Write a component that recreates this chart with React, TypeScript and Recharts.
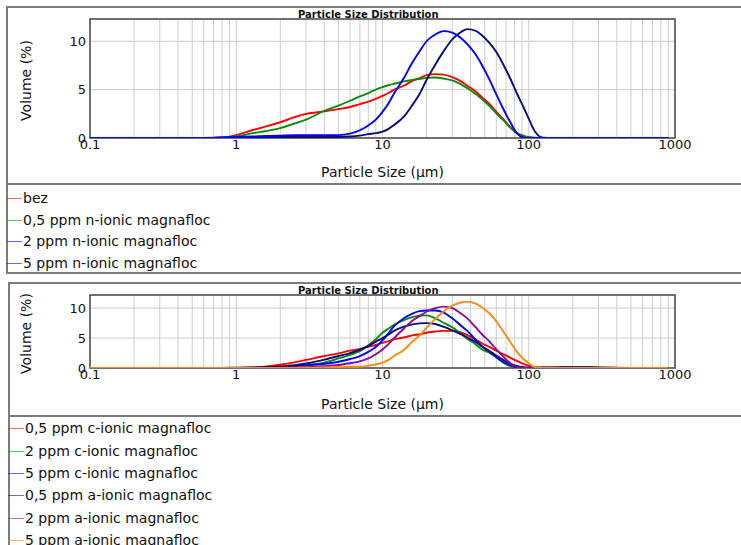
import React from "react";
import {
  LineChart,
  Line,
  XAxis,
  YAxis,
  CartesianGrid,
  ReferenceArea,
} from "recharts";

// particle sizes (µm) shared by every curve
const SIZES = [
  0.1, 0.3, 0.6, 0.8, 1, 1.3, 1.6, 2, 2.5, 3, 4, 5, 6, 7, 8, 9, 10, 11, 12, 14,
  16, 18, 20, 23, 26, 30, 34, 38, 43, 48, 54, 60, 67, 75, 83, 92, 100, 110, 125,
  150, 200, 300, 500, 900,
];

// upper chart — n-ionic magnafloc
const BEZ = [
  0, 0, 0, 0.05, 0.3, 0.83, 1.2, 1.63, 2.15, 2.5, 2.75, 2.98, 3.2, 3.5, 3.75, 4.05,
  4.35, 4.65, 5.0, 5.4, 5.9, 6.2, 6.5, 6.6, 6.55, 6.3, 5.9, 5.4, 4.85, 4.2, 3.5,
  2.7, 1.95, 1.1, 0.5, 0.1, 0.02, 0, 0, 0, 0, 0, 0, 0,
];
const N05 = [
  0, 0, 0, 0.02, 0.15, 0.5, 0.72, 1.02, 1.5, 1.9, 2.8, 3.35, 3.85, 4.3, 4.65, 5.0,
  5.25, 5.45, 5.6, 5.85, 6.0, 6.12, 6.22, 6.25, 6.15, 5.95, 5.6, 5.15, 4.6, 4.0,
  3.3, 2.55, 1.85, 1.05, 0.5, 0.25, 0.1, 0.03, 0, 0, 0, 0, 0, 0,
];
const N2 = [
  0, 0, 0, 0.05, 0.1, 0.15, 0.2, 0.25, 0.3, 0.3, 0.3, 0.3, 0.45, 0.8, 1.3, 1.9,
  2.7, 3.6, 4.6, 6.2, 7.8, 9.0, 10.0, 10.7, 11.05, 10.9, 10.4, 9.7, 8.7, 7.5, 6.0,
  4.5, 3.0, 1.6, 0.5, 0.03, 0, 0, 0, 0, 0, 0, 0, 0,
];
const N5 = [
  0, 0, 0, 0.02, 0.05, 0.08, 0.1, 0.1, 0.1, 0.1, 0.1, 0.1, 0.15, 0.25, 0.4, 0.5,
  0.65, 0.95, 1.35, 2.2, 3.4, 4.6, 6.0, 7.6, 8.9, 10.2, 10.9, 11.25, 11.1, 10.6,
  9.8, 8.9, 7.6, 6.1, 4.6, 3.2, 2.0, 0.7, 0.03, 0, 0, 0, 0, 0,
];

// lower chart — c-ionic / a-ionic magnafloc
const C05 = [
  0, 0, 0, 0, 0.02, 0.05, 0.25, 0.55, 0.95, 1.35, 2.0, 2.45, 2.9, 3.2, 3.55, 3.85,
  4.2, 4.5, 4.8, 5.1, 5.45, 5.65, 5.9, 6.1, 6.2, 6.2, 6.0, 5.5, 4.8, 4.1, 3.5, 2.9,
  2.3, 1.7, 1.2, 0.7, 0.4, 0.15, 0.05, 0.03, 0.02, 0, 0, 0,
];
const C2 = [
  0, 0, 0, 0, 0.02, 0.02, 0.05, 0.1, 0.3, 0.5, 0.9, 1.6, 2.2, 2.8, 3.8, 4.8, 5.9,
  6.6, 7.2, 8.0, 8.5, 8.75, 8.8, 8.3, 7.6, 6.8, 5.8, 4.9, 4.0, 3.1, 2.5, 1.8, 0.9,
  0.3, 0.05, 0, 0, 0, 0, 0, 0, 0, 0, 0,
];
const C5 = [
  0, 0, 0, 0, 0.02, 0.05, 0.1, 0.15, 0.25, 0.4, 0.7, 1.05, 1.5, 2.0, 2.7, 3.5, 4.6,
  5.8, 7.0, 8.3, 9.1, 9.5, 9.6, 9.6, 9.3, 8.3, 7.2, 6.2, 4.8, 3.6, 2.7, 1.8, 1.0,
  0.45, 0.1, 0.02, 0.02, 0.02, 0.03, 0.05, 0.1, 0.05, 0, 0,
];
const A05 = [
  0, 0, 0, 0.02, 0.05, 0.1, 0.15, 0.25, 0.45, 0.75, 1.4, 2.0, 2.5, 3.05, 3.7, 4.4,
  5.0, 5.6, 6.2, 6.9, 7.3, 7.45, 7.5, 7.35, 6.9, 6.3, 5.7, 5.1, 4.4, 3.6, 2.85, 2.1,
  1.35, 0.75, 0.35, 0.15, 0.1, 0.08, 0.08, 0.1, 0.15, 0.1, 0, 0,
];
const A2 = [
  0, 0, 0, 0, 0, 0, 0.02, 0.05, 0.1, 0.15, 0.3, 0.5, 0.8, 1.1, 1.6, 2.3, 3.1, 4.0,
  5.0, 6.6, 7.9, 8.7, 9.4, 10.0, 10.25, 10.0, 9.2, 8.3, 6.9, 5.6, 4.4, 3.1, 1.9,
  0.8, 0.2, 0.05, 0, 0, 0, 0, 0, 0, 0, 0,
];
const A5 = [
  0, 0, 0, 0, 0, 0, 0, 0, 0.02, 0.05, 0.1, 0.15, 0.2, 0.2, 0.4, 0.6, 0.9, 1.35, 2.0,
  3.0, 4.4, 5.5, 6.7, 8.2, 9.4, 10.4, 10.9, 11.1, 10.8, 10.1, 9.1, 7.8, 6.1, 4.3,
  2.7, 1.5, 0.8, 0.15, 0.02, 0, 0, 0, 0, 0,
];

const TOP_SERIES = [
  { name: "bez", color: "#ff0000", values: BEZ },
  { name: "0,5 ppm n-ionic magnafloc", color: "#0a8a0a", values: N05 },
  { name: "2 ppm n-ionic magnafloc", color: "#0000ff", values: N2 },
  { name: "5 ppm n-ionic magnafloc", color: "#0c0c78", values: N5 },
];
const TOP_DRAW_ORDER = [0, 1, 3, 2];

const BOTTOM_SERIES = [
  { name: "0,5 ppm c-ionic magnafloc", color: "#ff0000", values: C05 },
  { name: "2 ppm c-ionic magnafloc", color: "#0a8a0a", values: C2 },
  { name: "5 ppm c-ionic magnafloc", color: "#0000ff", values: C5 },
  { name: "0,5 ppm a-ionic magnafloc", color: "#0c0c78", values: A05 },
  { name: "2 ppm a-ionic magnafloc", color: "#8a0a96", values: A2 },
  { name: "5 ppm a-ionic magnafloc", color: "#ff8a10", values: A5 },
];
const BOTTOM_DRAW_ORDER = [0, 1, 2, 3, 4, 5];

const MAJOR_TICKS = [0.1, 1, 10, 100, 1000];
const MINOR_STEPS = [1, 2, 3, 4, 5, 6, 7, 8, 9];
const GRID_TICKS = MAJOR_TICKS.slice(0, -1)
  .flatMap((d) => MINOR_STEPS.map((m) => Number((d * m).toPrecision(2))))
  .concat([1000]);
const Y_TICKS = [0, 5, 10];

type Series = { name: string; color: string; values: number[] };

function buildRows(series: Series[]) {
  return SIZES.map((size, i) => {
    const row: Record<string, number> = { size };
    series.forEach((s, k) => {
      row["s" + k] = s.values[i];
    });
    return row;
  });
}

const yLabel = (props: any) => {
  const vb = props.viewBox || { x: 6, y: 0, width: 84, height: 100 };
  const cx = vb.x + 20;
  const cy = vb.y + vb.height / 2 + 2;
  return (
    <text
      x={cx}
      y={cy}
      transform={`rotate(-90 ${cx} ${cy})`}
      textAnchor="middle"
      dominantBaseline="central"
      fontSize={14}
      fill="#111"
    >
      Volume (%)
    </text>
  );
};

function PsdChart({
  series,
  order,
  height,
  marginTop,
  yMax,
  axisHeight,
}: {
  series: Series[];
  order: number[];
  height: number;
  marginTop: number;
  yMax: number;
  axisHeight: number;
}) {
  const rows = buildRows(series);
  return (
    <LineChart
      width={741}
      height={height}
      data={rows}
      margin={{ top: marginTop, right: 66, left: 6, bottom: 0 }}
    >
      <CartesianGrid stroke="#cdcdcd" strokeWidth={1} />
      <XAxis
        dataKey="size"
        type="number"
        scale="log"
        domain={[0.1, 1000]}
        ticks={GRID_TICKS}
        interval={0}
        allowDataOverflow
        tickFormatter={(v: number) => (MAJOR_TICKS.includes(v) ? String(v) : "")}
        tick={{ fontSize: 13, fill: "#111" }}
        tickLine={false}
        axisLine={false}
        tickSize={0}
        tickMargin={2}
        height={axisHeight}
        label={{
          value: "Particle Size (µm)",
          position: "insideBottom",
          offset: 6,
          fontSize: 14,
          fill: "#111",
        }}
      />
      <YAxis
        type="number"
        domain={[0, yMax]}
        ticks={Y_TICKS}
        allowDataOverflow
        tick={{ fontSize: 13, fill: "#111" }}
        tickLine={false}
        axisLine={false}
        tickSize={0}
        tickMargin={4}
        width={84}
        label={yLabel}
      />
      <ReferenceArea
        x1={0.1}
        x2={1000}
        y1={0}
        y2={yMax}
        fill="none"
        stroke="#4a4a4a"
        strokeWidth={1.5}
        ifOverflow="visible"
      />
      {order.map((k) => (
        <Line
          key={k}
          type="monotone"
          dataKey={"s" + k}
          stroke={series[k].color}
          strokeWidth={1.9}
          dot={false}
          isAnimationActive={false}
        />
      ))}
    </LineChart>
  );
}

function LegendBox({
  series,
  top,
  step,
  markLeft,
  textLeft,
}: {
  series: Series[];
  top: number;
  step: number;
  markLeft: number;
  textLeft: number;
}) {
  return (
    <>
      {series.map((s, i) => (
        <div
          key={s.name}
          style={{
            position: "absolute",
            left: 0,
            top: top + i * step - 11,
            height: 22,
            width: 400,
          }}
        >
          <div
            style={{
              position: "absolute",
              left: markLeft,
              top: 11,
              width: textLeft - markLeft - 1,
              height: 1,
              background: s.color,
              opacity: 0.6,
            }}
          />
          <div
            style={{
              position: "absolute",
              left: textLeft,
              top: 0,
              lineHeight: "22px",
              fontSize: 14,
              whiteSpace: "nowrap",
            }}
          >
            {s.name}
          </div>
        </div>
      ))}
    </>
  );
}

const frame = (left: number, top: number, height: number): React.CSSProperties => ({
  position: "absolute",
  left,
  top,
  width: 800,
  height,
  border: "2px solid #7c7c7c",
  boxSizing: "border-box",
});

const titleStyle = (top: number): React.CSSProperties => ({
  position: "absolute",
  left: 298,
  top,
  fontSize: 10,
  lineHeight: "12px",
  fontWeight: "bold",
  whiteSpace: "nowrap",
});

export default function App() {
  return (
    <div
      style={{
        position: "absolute",
        left: 0,
        top: 0,
        width: 741,
        height: 545,
        overflow: "hidden",
        background: "#fff",
        color: "#111",
        fontFamily: '"DejaVu Sans", Verdana, sans-serif',
      }}
    >
      <div style={frame(6, 6, 179)} />
      <div style={frame(6, 183, 91)} />
      <div style={frame(8, 282, 135)} />
      <div style={frame(8, 415, 200)} />

      <div style={{ position: "absolute", left: 0, top: 0 }}>
        <PsdChart
          series={TOP_SERIES}
          order={TOP_DRAW_ORDER}
          height={183}
          marginTop={19}
          yMax={12.3}
          axisHeight={45}
        />
      </div>
      <div style={titleStyle(8.5)}>Particle Size Distribution</div>
      <LegendBox series={TOP_SERIES} top={198} step={21.7} markLeft={7} textLeft={23} />

      <div style={{ position: "absolute", left: 0, top: 282 }}>
        <PsdChart
          series={BOTTOM_SERIES}
          order={BOTTOM_DRAW_ORDER}
          height={133}
          marginTop={13}
          yMax={12.2}
          axisHeight={47}
        />
      </div>
      <div style={titleStyle(285)}>Particle Size Distribution</div>
      <LegendBox series={BOTTOM_SERIES} top={428.3} step={22.3} markLeft={8} textLeft={25} />
    </div>
  );
}
